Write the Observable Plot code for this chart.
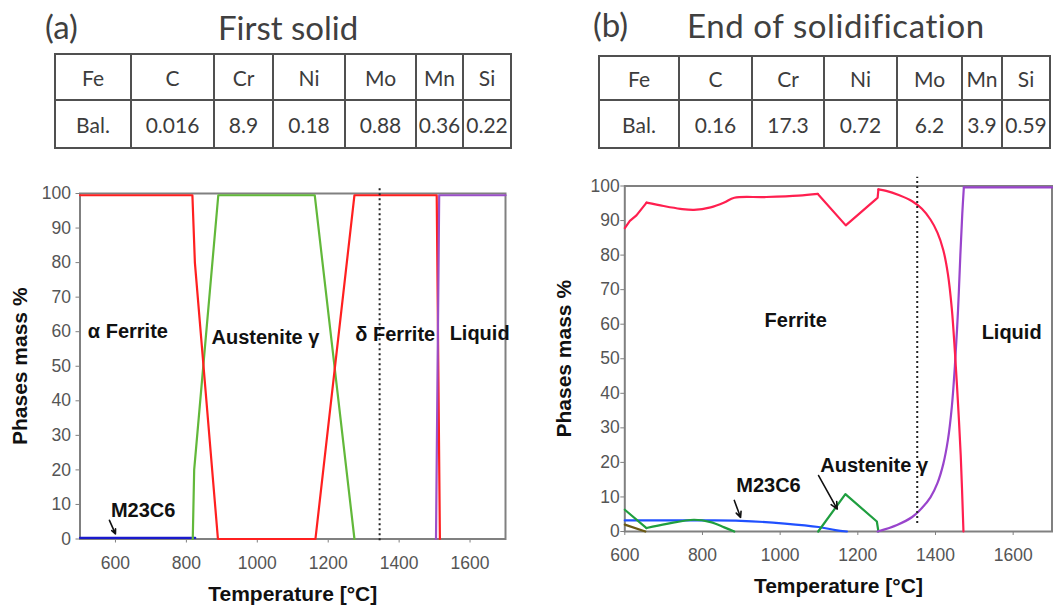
<!DOCTYPE html>
<html><head><meta charset="utf-8">
<script src="https://cdn.jsdelivr.net/npm/d3@7"></script>
<script src="https://cdn.jsdelivr.net/npm/@observablehq/plot@0.6"></script>
<style>
body{margin:0;background:#fff;}
#root{position:relative;width:1056px;height:608px;overflow:hidden;background:#fff;}
.title{position:absolute;font-family:Lato,"Open Sans",sans-serif;font-size:33px;line-height:33px;color:#404040;white-space:nowrap;}
.tbl{position:absolute;display:grid;box-sizing:border-box;border-top:2px solid #505050;border-left:2px solid #505050;font-family:Lato,"Open Sans",sans-serif;font-size:21px;color:#3c3c3c;}
.tbl div{box-sizing:border-box;border-right:2px solid #505050;border-bottom:2px solid #505050;display:flex;align-items:center;justify-content:center;white-space:nowrap;}
svg.chart{position:absolute;}
</style></head><body><div id="root"></div>
<script>
// ---------- data ----------
const elements = ["Fe","C","Cr","Ni","Mo","Mn","Si"];
const firstSolid = ["Bal.","0.016","8.9","0.18","0.88","0.36","0.22"];
const endSolid = ["Bal.","0.16","17.3","0.72","6.2","3.9","0.59"];

const tempTicks = [600,800,1000,1200,1400,1600];
const massTicks = [0,10,20,30,40,50,60,70,80,90,100];

// Panel (a) First solid: [temperature °C, phase mass %]
const aFerrite = [[500,99.5],[817,99.5],[824,80],[889,0],[1164,0],[1274,99.5],[1506,99.5],[1515,0]];
const aAustenite = [[818,0],[822,20],[890,99.5],[1162,99.5],[1274,0]];
const aLiquid = [[1504,0],[1513,99.5],[1700,99.5]];
const aM23C6 = [[500,0.3],[825,0.3]];
const aLabels = [["α Ferrite",635,60],["Austenite γ",1023,58.4],["δ Ferrite",1389,59.2],["Liquid",1627,59.5],["M23C6",678,8.2]];
const aArrows = [[583,5.4,600,1.5]];
const aDotted = 1345;

// Panel (b) End of solidification
const bFerriteStart = [[600,87.8],[613,89.9],[630,91.5],[656,95.2]];
const bFerriteDip = [[656,95.2],[700,94.2],[743,93.4],[778,93.1],[821,93.8],[856,95.2],[882,96.6],[960,96.8],[1047,97.2],[1097,97.7]];
const bFerriteNotch = [[1097,97.7],[1169,88.6],[1247,96.2],[1251,96.6],[1253,99]];
const bFerriteFall = [[1253,99],[1273,98.6],[1307,97.3],[1340,95.6],[1365,93.4],[1387,90.3],[1405,86.5],[1420,81.5],[1432,74.5],[1442,64.5],[1450,52],[1458,37],[1465,22],[1472,0]];
const bLiquidRise = [[1251,0],[1301,1.9],[1340,4.2],[1365,6.8],[1387,9.9],[1405,14],[1420,19.5],[1432,26.5],[1442,36],[1450,48],[1458,64],[1464,80],[1469,92],[1473,99.6]];
const bLiquidTop = [[1473,99.6],[1700,99.6]];
const bAustenite1 = [[600,6.3],[656,1]];
const bAustenite2 = [[656,1],[708,2.2],[778,3.4],[821,2.7],[856,1.2],[882,0]];
const bAustenite3 = [[1098,0],[1168,10.8],[1249,2.9],[1253,0]];
const bM23C6 = [[600,3.2],[795,3.2],[899,3.1],[1012,2.3],[1099,1.3],[1142,0.4],[1172,0]];
const bOther = [[600,2],[653,0]];
const bLabels = [["Ferrite",1040,61],["Liquid",1596,57.6],["M23C6",970,13.3],["Austenite γ",1242,19.1]];
const bArrows = [[882,9,898,4.1],[1099,16.2,1147,6.5]];
const bDotted = 1353;

// ---------- layout ----------
const root = d3.select("#root");
function title(text, left, top, ls){ root.append("div").attr("class","title").style("left",left+"px").style("top",top+"px").style("letter-spacing",(ls||0)+"px").text(text); }
title("(a)",45,10); title("First solid",218,11);
title("(b)",593,8); title("End of solidification",687,9,0.6);

function table(left, top, widths, heights, values){
  const t = root.append("div").attr("class","tbl")
    .style("left",left+"px").style("top",top+"px")
    .style("grid-template-columns", widths.map(w=>w+"px").join(" "))
    .style("grid-template-rows", heights.map(h=>h+"px").join(" "));
  for (const row of [elements, values]) for (const v of row) t.append("div").text(v);
}
table(54,53,[76,83,59,72,71,47,48],[46,48],firstSolid);
table(598,55,[80,73,72,73,65,40,48],[44,48],endSolid);

const font = "'Liberation Sans', Arial, sans-serif";
const line = (pts, color, curve="linear", w=2.2) => Plot.line(pts, {x: d=>d[0], y: d=>d[1], stroke: color, strokeWidth: w, curve});

function chart(o){
  const svg = Plot.plot({
    width: o.width, height: o.height,
    marginLeft: o.ml, marginRight: o.mr, marginTop: o.mt, marginBottom: o.mb,
    x: {domain: o.xdomain},
    y: {domain: [0,100]},
    style: {fontFamily: font, fontSize: "17.5px", background: "transparent", overflow: "visible"},
    marks: [
      Plot.axisX({ticks: tempTicks, tickFormat: d3.format("d"), tickSize: 4, tickPadding: o.xpad, label: null, color: "#555", stroke: "#808080"}),
      Plot.axisY({ticks: massTicks, tickFormat: d3.format("d"), tickSize: 4, tickPadding: o.ypad, label: null, color: "#555", stroke: "#808080"}),
      Plot.frame({stroke: "#808080", strokeWidth: 2}),
      ...o.lines,
      Plot.ruleX([o.dotted], {x: d=>d, y1: o.dot[0], y2: o.dot[1], stroke: "#222", strokeWidth: 2, strokeDasharray: "2,3"}),
      Plot.arrow(o.arrows, {x1: d=>d[0], y1: d=>d[1], x2: d=>d[2], y2: d=>d[3], stroke: "#111", strokeWidth: 1.6, headLength: 7, headAngle: 50}),
      Plot.text(o.labels, {x: d=>d[1], y: d=>d[2], text: d=>d[0], fontWeight: "bold", fontSize: 20, fill: "#111"}),
      Plot.text(["Temperature [°C]"], {frameAnchor: "bottom", dy: 55, text: d=>d, textAnchor: "middle", lineAnchor: "middle", fontWeight: "bold", fontSize: 21, fill: "#111"}),
      Plot.text(["Phases mass %"], {frameAnchor: "left", dx: o.ydx, rotate: -90, text: d=>d, textAnchor: "middle", lineAnchor: "middle", fontWeight: "bold", fontSize: 21, fill: "#111"})
    ]
  });
  svg.classList.add("chart");
  svg.style.left = o.left + "px"; svg.style.top = o.top + "px";
  root.node().appendChild(svg);
}

chart({left: 0, top: 170, width: 530, height: 438, ml: 79.5, mr: 25, mt: 23, mb: 69.5,
  xdomain: [500,1700], xpad: 14, ypad: 5, ydx: -60, dotted: aDotted, dot: [-0.5, 101.5],
  arrows: aArrows, labels: aLabels,
  lines: [line(aM23C6,"#1a1acc"), line(aAustenite,"#62b83a"), line(aFerrite,"#ff2020"), line(aLiquid,"#9b4fc8")]});

const cr = "catmull-rom";
chart({left: 530, top: 160, width: 526, height: 448, ml: 94.3, mr: 4.5, mt: 25.5, mb: 77,
  xdomain: [600,1700], xpad: 13, ypad: 1, ydx: -60.7, dotted: bDotted, dot: [2.3, 102.5],
  arrows: bArrows, labels: bLabels,
  lines: [line(bOther,"#6b5a14"), line(bM23C6,"#2050ff",cr),
    line(bAustenite1,"#1f9e3f"), line(bAustenite2,"#1f9e3f",cr), line(bAustenite3,"#1f9e3f"),
    line(bLiquidRise,"#9944cc",cr), line(bLiquidTop,"#9944cc"),
    line(bFerriteStart,"#ff1f4f"), line(bFerriteDip,"#ff1f4f",cr), line(bFerriteNotch,"#ff1f4f"), line(bFerriteFall,"#ff1f4f",cr)]});
</script></body></html>
